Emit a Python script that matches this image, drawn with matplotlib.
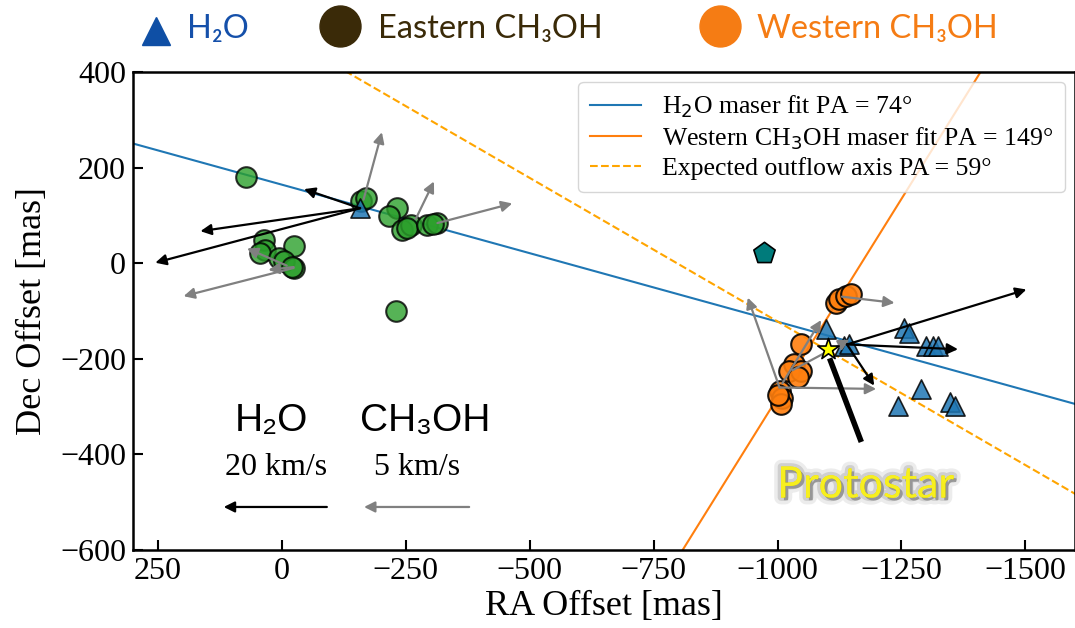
import numpy as np
import matplotlib
matplotlib.use("Agg")
import matplotlib.pyplot as plt
from matplotlib.lines import Line2D
import matplotlib.patheffects as pe

plt.rcParams['font.family'] = 'serif'
plt.rcParams['font.serif'] = ['Liberation Serif', 'DejaVu Serif']
plt.rcParams['mathtext.fontset'] = 'dejavusans'

# --- maser positions (RA offset, Dec offset) in mas ---
east_ch3oh_ra = [73, -160, -170, -233, -216, -243, -260, -252, -293, -314, -305,
                 36, 33, 43, -24, 6, -4, -24, -20, -230]
east_ch3oh_dec = [181, 130, 136, 115, 98, 70, 80, 73, 80, 84, 82,
                  49, 28, 21, 35, 11, 4, -10, -8, -100]

west_ch3oh_ra = [-1118, -1125, -1138, -1148, -1047, -1034, -1024, -1047, -1041,
                 -1004, -1010, -1007, -1000]
west_ch3oh_dec = [-83, -75, -69, -65, -169, -211, -225, -225, -239,
                  -267, -281, -294, -275]

h2o_ra = [-158, -1098, -1135, -1145, -1256, -1266, -1300, -1313, -1323,
          -1290, -1243, -1347, -1357]
h2o_dec = [115, -138, -173, -169, -135, -145, -173, -173, -173,
           -263, -298, -291, -298]

other_ra, other_dec = [-973], [21]
star_ra, star_dec = [-1101], [-180]

# --- proper motion vectors: tail position and displacement (mas on plot) ---
h2o_vec_ra = [-158, -158, -158, -1140, -1140, -1140]
h2o_vec_dec = [115, 115, 115, -170, -170, -170]
h2o_vec_dra = [113, 322, 413, -362, -224, -55]
h2o_vec_ddec = [40, -48, -114, 115, -10, -86]

ch3oh_vec_ra = [-165, -270, -314, -24, -10, -24,
                -1130, -1004, -1004, -1010, -1030]
ch3oh_vec_dec = [133, 92, 84, -10, -5, -8,
                 -70, -260, -260, -251, -224]
ch3oh_vec_dra = [-37, -37, -151, 222, 80, 51,
                 -106, 64, -195, -78, -115]
ch3oh_vec_ddec = [141, 79, 41, -59, 36, -6,
                  -13, 188, -3, 132, 64]

# --- fitted / expected axes: position angle and reference point ---
h2o_pa, h2o_ref = 74, (-650, -22)
west_pa, west_ref = 149, (-1064, -175)
outflow_pa, outflow_ref = 59, (-1100, -182)

fig = plt.figure(figsize=(10.75, 6.28), dpi=100)
ax = fig.add_axes([133 / 1075, 78 / 628, 942 / 1075, 478 / 628])

xs = np.array([350, -1700])


def pa_line(pa, ref):
    slope = np.cos(np.radians(pa)) / np.sin(np.radians(pa))
    return ref[1] + slope * (xs - ref[0])


ax.plot(xs, pa_line(h2o_pa, h2o_ref), color='#1f77b4', lw=1.5,
        label=r'H$_2$O maser fit PA = 74°', zorder=2)
ax.plot(xs, pa_line(west_pa, west_ref), color='#ff7f0e', lw=1.5,
        label=r'Western CH$_3$OH maser fit PA = 149°', zorder=2)
ax.plot(xs, pa_line(outflow_pa, outflow_ref), color='orange', lw=1.5, ls='--',
        label='Expected outflow axis PA = 59°', zorder=2)

ax.scatter(east_ch3oh_ra, east_ch3oh_dec, s=220, color='#2ca02c', alpha=0.8,
           edgecolor='black', linewidth=1.5, zorder=3)
ax.scatter(west_ch3oh_ra, west_ch3oh_dec, s=220, color='#ff7f0e', alpha=0.9,
           edgecolor='black', linewidth=1.5, zorder=3)
ax.scatter(h2o_ra, h2o_dec, s=190, marker='^', color='#1f77b4', alpha=0.85,
           edgecolor='black', linewidth=1.2, zorder=3)
ax.scatter(other_ra, other_dec, s=260, marker='p', color='#007b7b',
           edgecolor='black', linewidth=1.2, zorder=3)
ax.scatter(star_ra, star_dec, s=260, marker='*', color='yellow',
           edgecolor='black', linewidth=1.2, zorder=5)

for x, y, dx, dy in zip(ch3oh_vec_ra, ch3oh_vec_dec, ch3oh_vec_dra, ch3oh_vec_ddec):
    ax.annotate('', xy=(x + dx, y + dy), xytext=(x, y), zorder=4,
                arrowprops=dict(arrowstyle='-|>', color='gray', lw=1.6,
                                mutation_scale=16, shrinkA=0, shrinkB=0))
for x, y, dx, dy in zip(h2o_vec_ra, h2o_vec_dec, h2o_vec_dra, h2o_vec_ddec):
    ax.annotate('', xy=(x + dx, y + dy), xytext=(x, y), zorder=4,
                arrowprops=dict(arrowstyle='-|>', color='black', lw=1.6,
                                mutation_scale=16, shrinkA=0, shrinkB=0))

# scale bars
ax.annotate('', xy=(117, -510), xytext=(-91, -510),
            arrowprops=dict(arrowstyle='-|>', color='black', lw=1.6,
                            mutation_scale=16, shrinkA=0, shrinkB=0))
ax.annotate('', xy=(-166, -510), xytext=(-378, -510),
            arrowprops=dict(arrowstyle='-|>', color='gray', lw=1.6,
                            mutation_scale=16, shrinkA=0, shrinkB=0))
sans = ['Liberation Sans', 'DejaVu Sans']
ax.text(20, -330, 'H₂O', fontsize=28, family=sans, ha='center', va='center')
ax.text(-290, -330, 'CH₃OH', fontsize=28, family=sans, ha='center', va='center')
ax.text(12, -428, '20 km/s', fontsize=23, ha='center', va='center')
ax.text(-272, -428, '5 km/s', fontsize=23, ha='center', va='center')

# protostar pointer
ax.plot([-1105, -1169], [-199, -374], color='black', lw=4, zorder=6,
        solid_capstyle='butt')
ax.text(-1177, -465, 'Protostar', fontsize=31, family='Lato', color='#f7ef1e',
        ha='center', va='center', zorder=6,
        path_effects=[pe.withStroke(linewidth=10, foreground='#9a9a9a', alpha=0.18),
                      pe.withStroke(linewidth=5, foreground='#7a7a7a', alpha=0.25),
                      pe.SimplePatchShadow(offset=(2, -2), shadow_rgbFace='#444444',
                                           alpha=0.4),
                      pe.Normal()])

ax.set_xlim(300, -1600)
ax.set_ylim(-600, 400)
ax.set_xticks([250, 0, -250, -500, -750, -1000, -1250, -1500])
ax.set_yticks([-600, -400, -200, 0, 200, 400])
ax.tick_params(direction='in', labelsize=23, length=7, width=1.5, pad=5)
for s in ax.spines.values():
    s.set_linewidth(1.8)
ax.set_xlabel('RA Offset [mas]', fontsize=26, labelpad=3)
ax.set_ylabel('Dec Offset [mas]', fontsize=26, labelpad=8)

ax.legend(loc='upper right', fontsize=18.5, handlelength=2.0, labelspacing=0.2,
          borderpad=0.45, borderaxespad=0.4, framealpha=0.8, edgecolor='#cccccc')

# top key
key_font = ['Lato', 'DejaVu Sans']
fig.add_artist(Line2D([156 / 1075], [1 - 31 / 628], marker='^', color='#0f4fa5',
                      markersize=20, ls='none', transform=fig.transFigure))
fig.add_artist(Line2D([340 / 1075], [1 - 26 / 628], marker='o', color='#3a2a08',
                      markersize=29.5, ls='none', transform=fig.transFigure))
fig.add_artist(Line2D([720 / 1075], [1 - 26 / 628], marker='o', color='#f57c14',
                      markersize=29.5, ls='none', transform=fig.transFigure))
fig.text(187 / 1075, 1 - 38 / 628, 'H₂O', fontsize=23.5, family=key_font,
         color='#1550aa', va='baseline')
fig.text(378 / 1075, 1 - 38 / 628, 'Eastern CH₃OH', fontsize=23.5,
         family=key_font, color='#3a2a08', va='baseline')
fig.text(757 / 1075, 1 - 38 / 628, 'Western CH₃OH', fontsize=23.5,
         family=key_font, color='#f57c14', va='baseline')

fig.savefig('out.png', dpi=100)
